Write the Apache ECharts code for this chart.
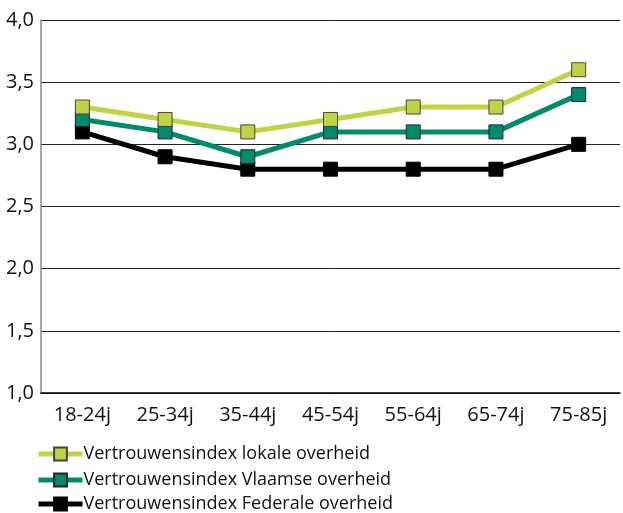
<!DOCTYPE html>
<html><head><meta charset="utf-8">
<script src="https://cdn.jsdelivr.net/npm/echarts@6/dist/echarts.min.js"></script>
<style>html,body{margin:0;padding:0;background:#fff}#c{width:623px;height:513px}</style>
</head><body><div id="c"></div>
<script>
var categories = ['18-24j','25-34j','35-44j','45-54j','55-64j','65-74j','75-85j'];
var lokale = [3.3, 3.2, 3.1, 3.2, 3.3, 3.3, 3.6];
var vlaamse = [3.2, 3.1, 2.9, 3.1, 3.1, 3.1, 3.4];
var federale = [3.1, 2.9, 2.8, 2.8, 2.8, 2.8, 3.0];
var names = ['Vertrouwensindex lokale overheid','Vertrouwensindex Vlaamse overheid','Vertrouwensindex Federale overheid'];
var colors = ['#c0d443','#008b6a','#000000'];
var font = '"Open Sans", "Noto Sans", sans-serif';
function mk(name, data, color, border){
  return {name:name, type:'line', data:data, symbol:'rect', symbolSize:14,
    lineStyle:{color:color,width:5}, itemStyle:{color:color,borderColor:border,borderWidth:1}};
}
function lg(i, top){
  return {orient:'horizontal',left:36,top:top,padding:0,itemWidth:44,itemHeight:16,
    lineStyle:{width:5},
    textStyle:{color:'#111',fontSize:18,fontFamily:font,padding:[0,0,0,-4]},
    data:[names[i]]};
}
var chart = echarts.init(document.getElementById('c'));
chart.setOption({
  animation:false,
  grid:{left:41,right:3,top:20,bottom:120},
  xAxis:{type:'category',data:categories,boundaryGap:true,
    axisLine:{lineStyle:{color:'#000',width:1.5}},
    axisTick:{inside:true,length:8,lineStyle:{color:'#000'}},
    axisLabel:{color:'#111',fontSize:20,fontFamily:font,margin:12}},
  yAxis:{type:'value',min:1,max:4,interval:0.5,
    axisLine:{show:true,lineStyle:{color:'#888',width:1.5}},
    axisTick:{show:false},
    splitLine:{lineStyle:{color:'#222',width:1}},
    axisLabel:{color:'#111',fontSize:20,fontFamily:font,margin:7,
      formatter:function(v){return v.toFixed(1).replace('.',',');}}},
  legend:[lg(0,445),lg(1,471),lg(2,495)],
  series:[mk(names[2],federale,colors[2],'#000'),mk(names[1],vlaamse,colors[1],'#223'),mk(names[0],lokale,colors[0],'#444')]
});
</script></body></html>
